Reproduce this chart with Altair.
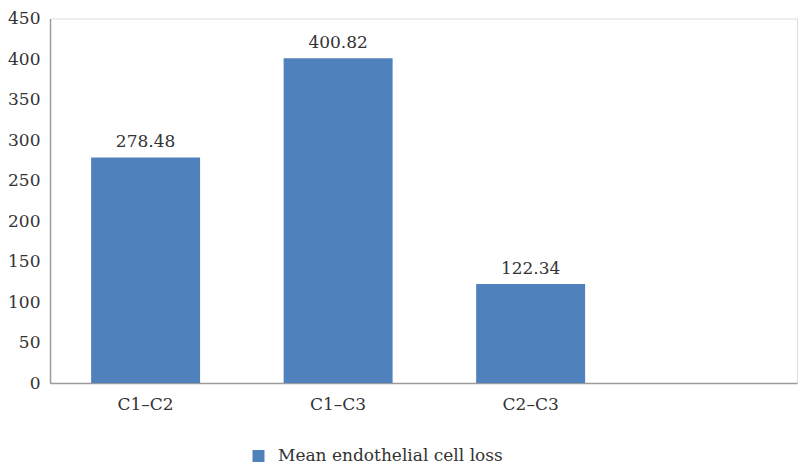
import altair as alt
import pandas as pd

categories = ["C1–C2", "C1–C3", "C2–C3"]
values = [278.48, 400.82, 122.34]
domain_cats = categories + [" "]
series_name = "Mean endothelial cell loss"

df = pd.DataFrame({
    "cat": categories,
    "val": values,
    "label": [f"{v:.2f}" for v in values],
    "series": [series_name] * len(categories),
})

FONT = "DejaVu Serif"
TXT = "#333333"
FS = 17

xscale = alt.Scale(domain=domain_cats, paddingInner=0.434, paddingOuter=0.157, align=0.68)
x = alt.X("cat:N", scale=xscale, sort=domain_cats,
          axis=alt.Axis(title=None, labelAngle=0, ticks=False, labelPadding=13,
                        labelFontSize=FS, labelFont=FONT, labelColor=TXT,
                        domainColor="#9a9a9a", domainWidth=1.5))
y = alt.Y("val:Q", scale=alt.Scale(domain=[0, 450], nice=False),
          axis=alt.Axis(title=None, values=list(range(0, 451, 50)), grid=False, ticks=False,
                        labelPadding=10, labelFontSize=FS, labelFont=FONT, labelColor=TXT,
                        domainColor="#9a9a9a", domainWidth=1.5))

bars = alt.Chart(df).mark_bar(color="#4F81BD").encode(
    x=x, y=y,
    color=alt.Color("series:N", scale=alt.Scale(domain=[series_name], range=["#4F81BD"]),
                    legend=alt.Legend(title=None, orient="none", legendX=200, legendY=429,
                                      symbolType="square", symbolSize=144, symbolStrokeWidth=0,
                                      symbolFillColor="#3A68AA",
                                      labelFontSize=FS, labelFont=FONT, labelColor=TXT,
                                      labelOffset=11, labelLimit=0)),
)
texts = alt.Chart(df).mark_text(baseline="alphabetic", dy=-10, fontSize=FS, font=FONT, color=TXT).encode(
    x=alt.X("cat:N", sort=domain_cats, scale=xscale),
    y="val:Q", text="label:N")

chart = (bars + texts).properties(
    width=747, height=364.5,
    autosize=alt.AutoSizeParams(type="none"),
    padding={"left": 50, "top": 18.5, "right": 4, "bottom": 82},
).configure_view(stroke=None).configure(background="white")

chart.save("out.html", embed_options={"renderer": "svg", "actions": False})
